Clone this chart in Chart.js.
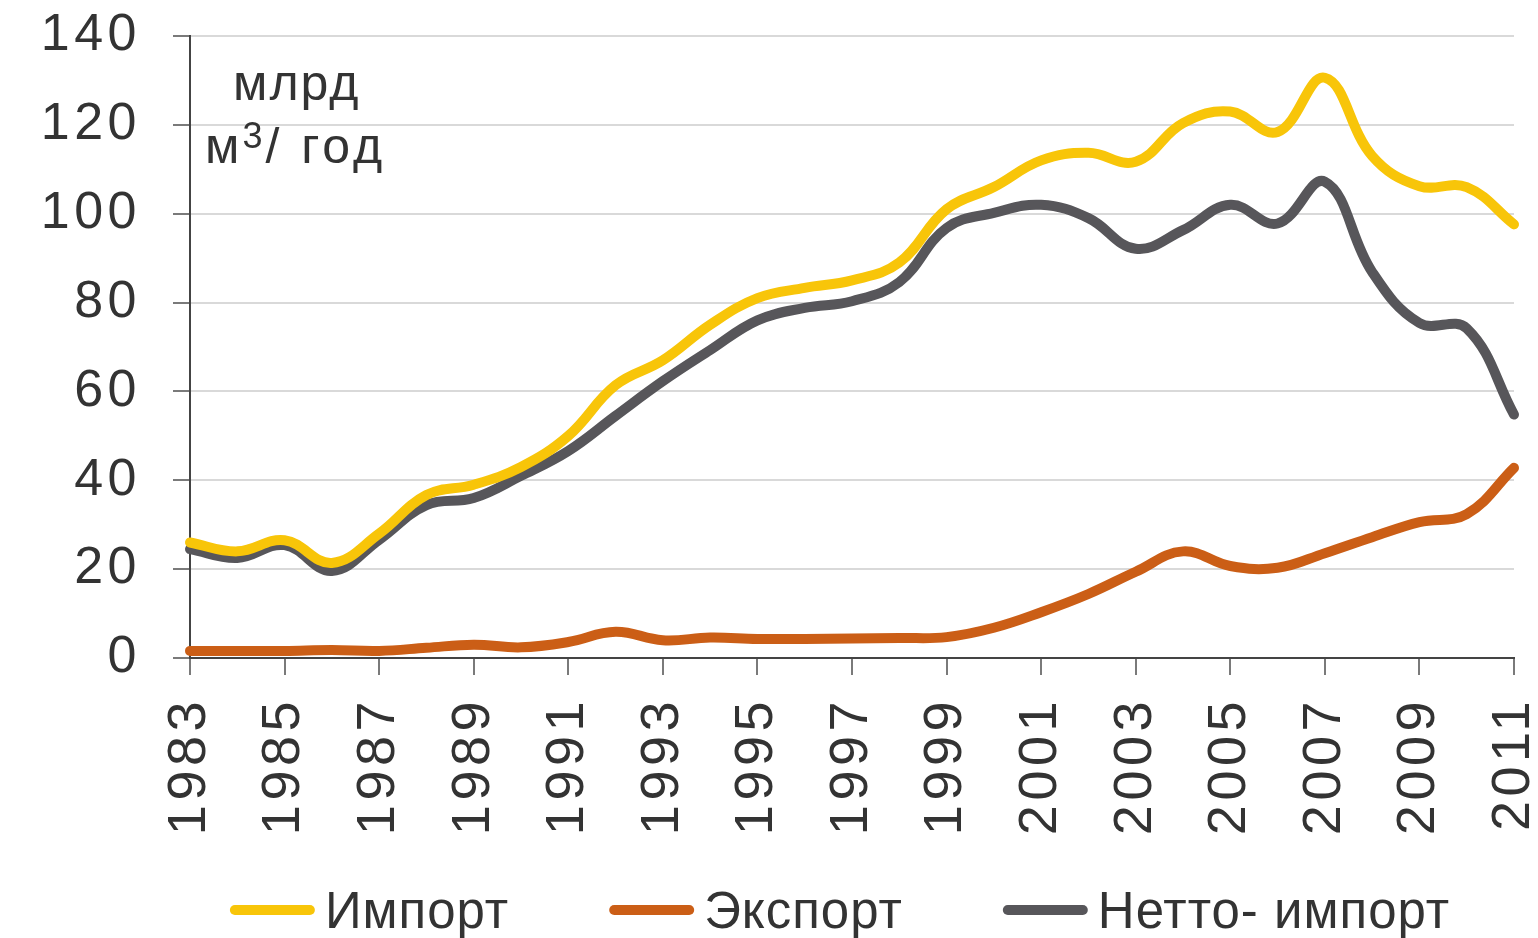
<!DOCTYPE html>
<html>
<head>
<meta charset="utf-8">
<script src="https://cdn.jsdelivr.net/npm/chart.js@4/dist/chart.umd.min.js"></script>
<style>
  html, body { margin: 0; padding: 0; background: #fff; }
  #wrap { width: 1538px; height: 938px; }
</style>
</head>
<body>
<div id="wrap"><canvas id="gasChart" width="1538" height="938"></canvas></div>
<script>
const years = ['1983', '1984', '1985', '1986', '1987', '1988', '1989', '1990', '1991', '1992',
    '1993', '1994', '1995', '1996', '1997', '1998', '1999', '2000', '2001', '2002',
    '2003', '2004', '2005', '2006', '2007', '2008', '2009', '2010', '2011'];

const importVals = [26, 24, 26.5, 21.4, 28, 36.7, 39, 43, 50, 61.4,
    67, 75, 81, 83.3, 85, 89, 101, 106, 112, 113.7,
    111.7, 120.4, 123, 118.4, 130.6, 113, 106.2, 106, 97.6];

const exportVals = [1.6, 1.6, 1.6, 1.8, 1.6, 2.3, 3, 2.4, 3.6, 5.9,
    4, 4.6, 4.3, 4.3, 4.4, 4.5, 4.7, 6.8, 10.3, 14.4,
    19.4, 24, 20.7, 20.3, 23.6, 27.2, 30.6, 32.4, 42.8];

const netVals = [24.5, 22.5, 25.4, 19.6, 26.6, 34.4, 36, 41, 46.6, 54.5,
    62.3, 69.3, 76, 78.8, 80.3, 84.6, 96.8, 100.2, 102, 99,
    92.1, 96.3, 102, 97.8, 107.2, 86.9, 75.4, 74.2, 54.8];

const yTicks = [0, 20, 40, 60, 80, 100, 120, 140];

const textColor = '#333333';
const fontFamily = '"Liberation Sans", Arial, sans-serif';

// tick labels are slightly letter-spaced; legend and units are drawn by hand afterwards
const extrasPlugin = {
    id: 'extras',
    beforeDraw(chart) {
        chart.ctx.letterSpacing = '4.5px';
    },
    afterDraw(chart) {
        const ctx = chart.ctx;
        ctx.save();
        ctx.fillStyle = textColor;
        ctx.textBaseline = 'alphabetic';
        ctx.textAlign = 'left';

        // units in the top-left corner of the plot
        const ux = chart.chartArea.left;
        const uy = chart.chartArea.top;
        ctx.letterSpacing = '2px';
        ctx.font = '50px ' + fontFamily;
        ctx.fillText('млрд', ux + 43, uy + 64);
        ctx.letterSpacing = '3px';
        let x = ux + 15;
        ctx.fillText('м', x, uy + 127);
        x += ctx.measureText('м').width;
        ctx.font = '36px ' + fontFamily;
        ctx.fillText('3', x, uy + 112);
        x += ctx.measureText('3').width;
        ctx.font = '50px ' + fontFamily;
        ctx.letterSpacing = '4px';
        ctx.fillText('/ год', x, uy + 127);

        // legend
        ctx.letterSpacing = '1px';
        ctx.font = '51px ' + fontFamily;
        const lineLen = 85, gap = 10, itemGap = 100;
        const items = chart.data.datasets.map(ds => ({
            text: ds.label,
            color: ds.borderColor,
            w: lineLen + gap + ctx.measureText(ds.label).width
        }));
        const total = items.reduce((s, it) => s + it.w, 0) + itemGap * (items.length - 1);
        let lx = (chart.chartArea.left + chart.chartArea.right) / 2 - 12 - total / 2;
        const ly = chart.height - 10;
        items.forEach(it => {
            ctx.strokeStyle = it.color;
            ctx.lineWidth = 10;
            ctx.lineCap = 'round';
            ctx.beginPath();
            ctx.moveTo(lx + 5, ly - 18);
            ctx.lineTo(lx + lineLen - 5, ly - 18);
            ctx.stroke();
            ctx.fillText(it.text, lx + lineLen + gap, ly);
            lx += it.w + itemGap;
        });
        ctx.restore();
    }
};

const ctx = document.getElementById('gasChart').getContext('2d');
const gasChart = new Chart(ctx, {
    type: 'line',
    data: {
        labels: years,
        datasets: [{
            label: 'Импорт',
            data: importVals,
            borderColor: '#F8C509',
            backgroundColor: '#F8C509',
            borderWidth: 10
        }, {
            label: 'Экспорт',
            data: exportVals,
            borderColor: '#CB5E16',
            backgroundColor: '#CB5E16',
            borderWidth: 10
        }, {
            label: 'Нетто- импорт',
            data: netVals,
            borderColor: '#57565A',
            backgroundColor: '#57565A',
            borderWidth: 10
        }]
    },
    options: {
        responsive: false,
        animation: false,
        devicePixelRatio: 1,
        layout: {
            padding: { left: 0, right: 24, top: 36, bottom: 70 }
        },
        elements: {
            line: {
                tension: 0.4,
                borderCapStyle: 'round',
                borderJoinStyle: 'round',
                fill: false
            },
            point: { radius: 0, hoverRadius: 0 }
        },
        datasets: {
            line: { clip: false }
        },
        scales: {
            x: {
                grid: {
                    drawOnChartArea: false,
                    drawTicks: true,
                    tickLength: 17,
                    tickColor: '#7a7a7a',
                    lineWidth: 2
                },
                border: { display: true, color: '#444444', width: 2 },
                ticks: {
                    autoSkip: false,
                    maxRotation: 90,
                    minRotation: 90,
                    padding: 22,
                    color: textColor,
                    font: { family: fontFamily, size: 54 },
                    callback: function (val, i) {
                        return i % 2 === 0 ? years[i] : null;
                    }
                },
                afterFit: function (scale) {
                    scale.height = 210;
                    scale.paddingLeft = 0;
                    scale.paddingRight = 0;
                }
            },
            y: {
                min: 0,
                max: 140,
                afterBuildTicks: function (scale) {
                    scale.ticks = yTicks.map(v => ({ value: v }));
                },
                grid: {
                    color: '#d9d9d9',
                    lineWidth: 2,
                    tickLength: 17,
                    tickColor: '#7a7a7a'
                },
                border: { display: true, color: '#444444', width: 2 },
                ticks: {
                    autoSkip: false,
                    padding: 32,
                    color: textColor,
                    font: { family: fontFamily, size: 52 }
                },
                afterFit: function (scale) {
                    scale.width = 190;
                    scale.paddingTop = 0;
                    scale.paddingBottom = 0;
                }
            }
        },
        plugins: {
            legend: { display: false },
            tooltip: { enabled: false }
        }
    },
    plugins: [extrasPlugin]
});
</script>
</body>
</html>
